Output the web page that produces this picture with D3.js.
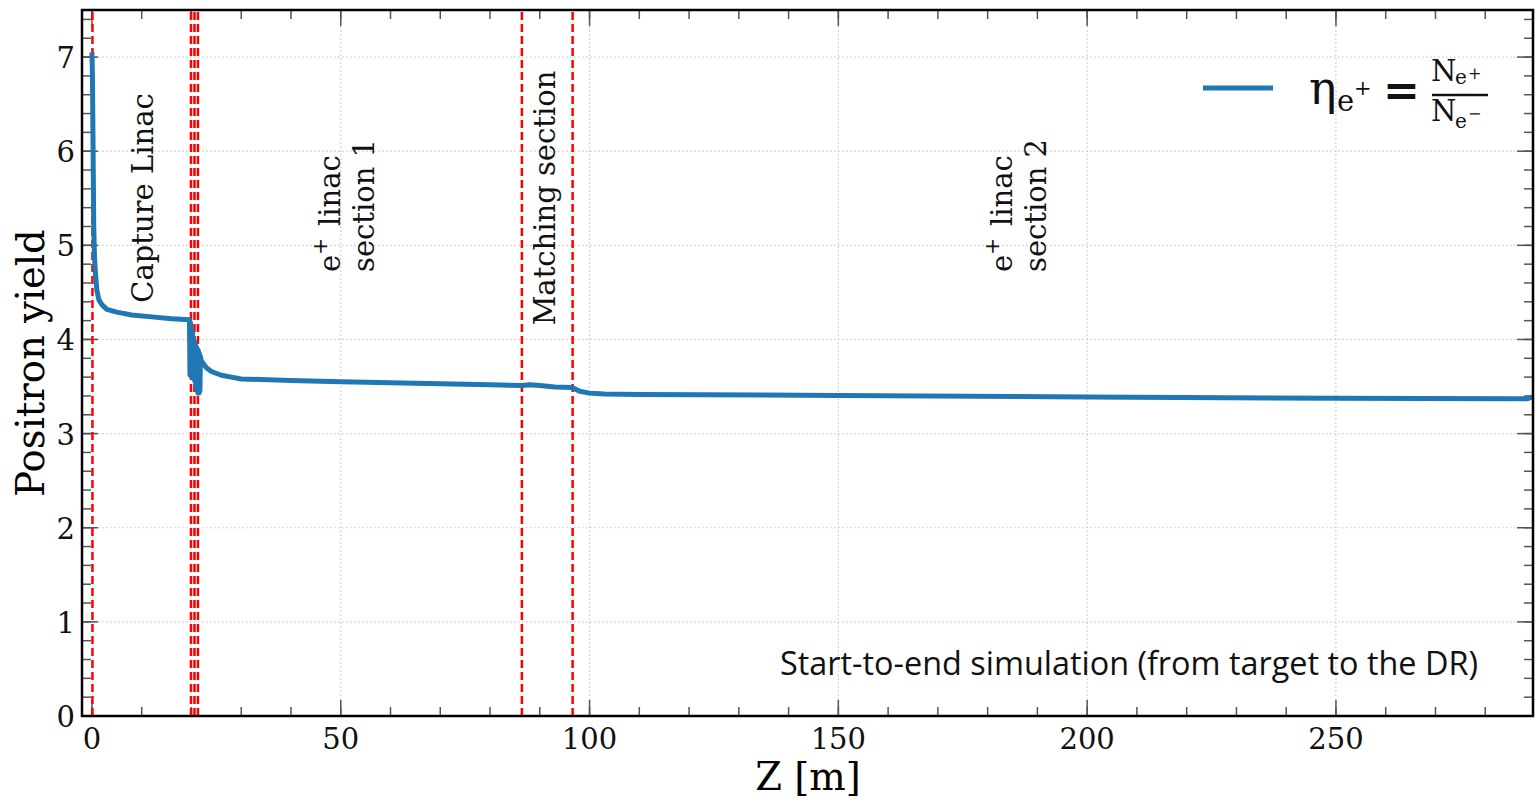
<!DOCTYPE html>
<html>
<head>
<meta charset="utf-8">
<script src="https://cdn.jsdelivr.net/npm/d3@7"></script>
<style>
  body { margin: 0; background: #fff; }
  svg { display: block; }
  .tickLabel { font-family: 'DejaVu Serif', serif; font-size: 29px; fill: #111; }
</style>
</head>
<body>
<div id="chart"></div>
<script>
// positron yield along the beamline
const zVals = [0, 0.1, 0.2, 0.28, 0.36, 0.5, 0.7, 1.0, 1.4, 2, 3, 5, 8, 12, 16, 19.6,
  19.7, 19.8, 19.9, 20.0, 20.1, 20.2, 20.3, 20.4, 20.5, 20.6, 20.7, 20.8, 20.9, 21.0, 21.1, 21.2, 21.3, 21.4, 21.5, 21.6, 21.7, 21.8,
  22, 23, 24, 26, 28, 30,
  40, 50, 60, 70, 80, 86.5, 88, 90, 93, 96.5, 98, 100, 103, 110, 150, 200, 250, 285, 288.5, 289.5];
const yieldVals = [7.05, 6.8, 6.2, 5.7, 5.2, 4.9, 4.7, 4.52, 4.42, 4.37, 4.32, 4.29, 4.26, 4.24, 4.22, 4.21,
  3.62, 4.18, 3.62, 4.12, 3.6, 4.08, 3.6, 4.02, 3.58, 3.98, 3.55, 3.95, 3.5, 3.92, 3.46, 3.9, 3.43, 3.88, 3.43, 3.85, 3.45, 3.82,
  3.77, 3.7, 3.66, 3.62, 3.6, 3.58,
  3.565, 3.55, 3.54, 3.53, 3.52, 3.51, 3.52, 3.51, 3.495, 3.49, 3.45, 3.43, 3.42, 3.415, 3.405, 3.39, 3.375, 3.37, 3.37, 3.39];

// section boundaries (red dashed lines)
const sectionZ = [0.1, 19.9, 20.6, 21.3, 86.4, 96.6];

const xTicks = [0, 50, 100, 150, 200, 250];
const yTicks = [0, 1, 2, 3, 4, 5, 6, 7];

const width = 1540, height = 803;
const margin = {left: 82, right: 7, top: 10, bottom: 87};

const svg = d3.select('#chart').append('svg')
    .attr('width', width)
    .attr('height', height);

const x = d3.scaleLinear()
    .domain([-2, 289.6])
    .range([margin.left, width - margin.right]);

const y = d3.scaleLinear()
    .domain([0, 7.5])
    .range([height - margin.bottom, margin.top]);

const x0 = margin.left, x1 = width - margin.right;
const y0 = height - margin.bottom, y1 = margin.top;

//grid
const grid = svg.append('g');
grid.selectAll('line.gx')
    .data(xTicks.filter(d => d > 0))
    .join('line')
        .attr('x1', d => x(d)).attr('x2', d => x(d))
        .attr('y1', y0).attr('y2', y1)
        .attr('stroke', '#c8c8c8').attr('stroke-width', 1.2)
        .attr('stroke-dasharray', '1.5,2.5');
grid.selectAll('line.gy')
    .data(yTicks.filter(d => d > 0))
    .join('line')
        .attr('y1', d => y(d)).attr('y2', d => y(d))
        .attr('x1', x0).attr('x2', x1)
        .attr('stroke', '#c8c8c8').attr('stroke-width', 1.2)
        .attr('stroke-dasharray', '1.5,2.5');

//ticks, all four sides pointing inwards
const xMinor = d3.range(0, 290, 10);
const yMinor = d3.range(0, 7.51, 0.2);
const tk = svg.append('g').attr('stroke', '#555').attr('stroke-width', 1.5);
function xTickLines(data, len) {
    tk.append('g').selectAll('line').data(data).join('line')
        .attr('x1', d => x(d)).attr('x2', d => x(d))
        .attr('y1', y0).attr('y2', y0 - len);
    tk.append('g').selectAll('line').data(data).join('line')
        .attr('x1', d => x(d)).attr('x2', d => x(d))
        .attr('y1', y1).attr('y2', y1 + len);
}
function yTickLines(data, len) {
    tk.append('g').selectAll('line').data(data).join('line')
        .attr('y1', d => y(d)).attr('y2', d => y(d))
        .attr('x1', x0).attr('x2', x0 + len);
    tk.append('g').selectAll('line').data(data).join('line')
        .attr('y1', d => y(d)).attr('y2', d => y(d))
        .attr('x1', x1).attr('x2', x1 - len);
}
xTickLines(xMinor, 9);
xTickLines(xTicks, 16);
yTickLines(yMinor, 9);
yTickLines(yTicks, 16);

//red dashed section lines
svg.append('g').selectAll('line')
    .data(sectionZ)
    .join('line')
        .attr('x1', d => x(d)).attr('x2', d => x(d))
        .attr('y1', y0).attr('y2', y1)
        .attr('stroke', '#ff0000').attr('stroke-width', 2.5)
        .attr('stroke-dasharray', '8,4');

//yield curve
const pts = zVals.map((z, i) => [z, yieldVals[i]]);
svg.append('path')
    .datum(pts)
    .attr('d', d3.line().x(d => x(d[0])).y(d => y(d[1])))
    .attr('fill', 'none')
    .attr('stroke', '#1f77b4')
    .attr('stroke-width', 5)
    .attr('stroke-linejoin', 'round');

//frame
svg.append('rect')
    .attr('x', x0).attr('y', y1)
    .attr('width', x1 - x0).attr('height', y0 - y1)
    .attr('fill', 'none').attr('stroke', '#000').attr('stroke-width', 2.5);

//tick labels
svg.append('g').selectAll('text')
    .data(xTicks)
    .join('text')
        .classed('tickLabel', true)
        .attr('x', d => x(d)).attr('y', y0 + 33)
        .attr('text-anchor', 'middle')
        .text(d => d);
svg.append('g').selectAll('text')
    .data(yTicks)
    .join('text')
        .classed('tickLabel', true)
        .attr('x', x0 - 7).attr('y', d => y(d) + 11)
        .attr('text-anchor', 'end')
        .text(d => d);

//axis labels
svg.append('text')
    .attr('x', 808).attr('y', 790)
    .attr('text-anchor', 'middle')
    .style('font-family', "'DejaVu Serif', serif").style('font-size', '38.5px')
    .text('Z [m]');
svg.append('text')
    .attr('transform', 'translate(44, 363) rotate(-90)')
    .attr('text-anchor', 'middle')
    .style('font-family', "'DejaVu Serif', serif").style('font-size', '38.5px')
    .text('Positron yield');

//section annotations
function rotText(px, py, lines, anchor) {
    const t = svg.append('text')
        .attr('transform', `translate(${px}, ${py}) rotate(-90)`)
        .attr('text-anchor', anchor)
        .style('font-family', "'DejaVu Serif', serif").style('font-size', '29px')
        .style('fill', '#111');
    lines.forEach((ln, i) => {
        const ts = t.append('tspan').attr('x', 0).attr('dy', i === 0 ? 0 : 34);
        ln.forEach(part => {
            if (part.sup) {
                ts.append('tspan').attr('dy', -13).style('font-size', '20px').text(part.t);
                ts.append('tspan').attr('dy', 13).text('\u200a');
            } else {
                ts.append('tspan').text(part.t);
            }
        });
    });
}
rotText(153, 198, [[{t: 'Capture Linac'}]], 'middle');
rotText(340, 272, [[{t: 'e'}, {t: '+', sup: true}, {t: ' linac'}], [{t: 'section 1'}]], 'start');
rotText(555, 198, [[{t: 'Matching section'}]], 'middle');
rotText(1012, 272, [[{t: 'e'}, {t: '+', sup: true}, {t: ' linac'}], [{t: 'section 2'}]], 'start');

svg.append('text')
    .attr('x', 1478).attr('y', 675)
    .attr('text-anchor', 'end')
    .style('font-family', "'Open Sans', sans-serif").style('font-size', '32.4px')
    .style('fill', '#111')
    .text('Start-to-end simulation (from target to the DR)');

//legend
const lg = svg.append('g').style('font-family', "'DejaVu Serif', serif").style('fill', '#111');
lg.append('line')
    .attr('x1', 1203).attr('x2', 1273).attr('y1', 88).attr('y2', 88)
    .attr('stroke', '#1f77b4').attr('stroke-width', 5);
lg.append('text').attr('x', 1309).attr('y', 104).style('font-size', '46px').text('η');
lg.append('text').attr('x', 1337).attr('y', 111).style('font-size', '29px').text('e');
lg.append('text').attr('x', 1354).attr('y', 95).style('font-size', '21px').text('+');
lg.append('text').attr('x', 1383).attr('y', 106).style('font-size', '44px').style('font-weight', 'bold').text('=');
lg.append('line')
    .attr('x1', 1432).attr('x2', 1488).attr('y1', 95).attr('y2', 95)
    .attr('stroke', '#111').attr('stroke-width', 2.5);
[['+', 81, 84, 79], ['\u2212', 121, 128, 119]].forEach(([s, nb, eb, sb]) => {
    lg.append('text').attr('x', 1431).attr('y', nb).style('font-size', '29px').text('N');
    lg.append('text').attr('x', 1455).attr('y', eb).style('font-size', '20px').text('e');
    lg.append('text').attr('x', 1468).attr('y', sb).style('font-size', '16px').text(s);
});
</script>
</body>
</html>
